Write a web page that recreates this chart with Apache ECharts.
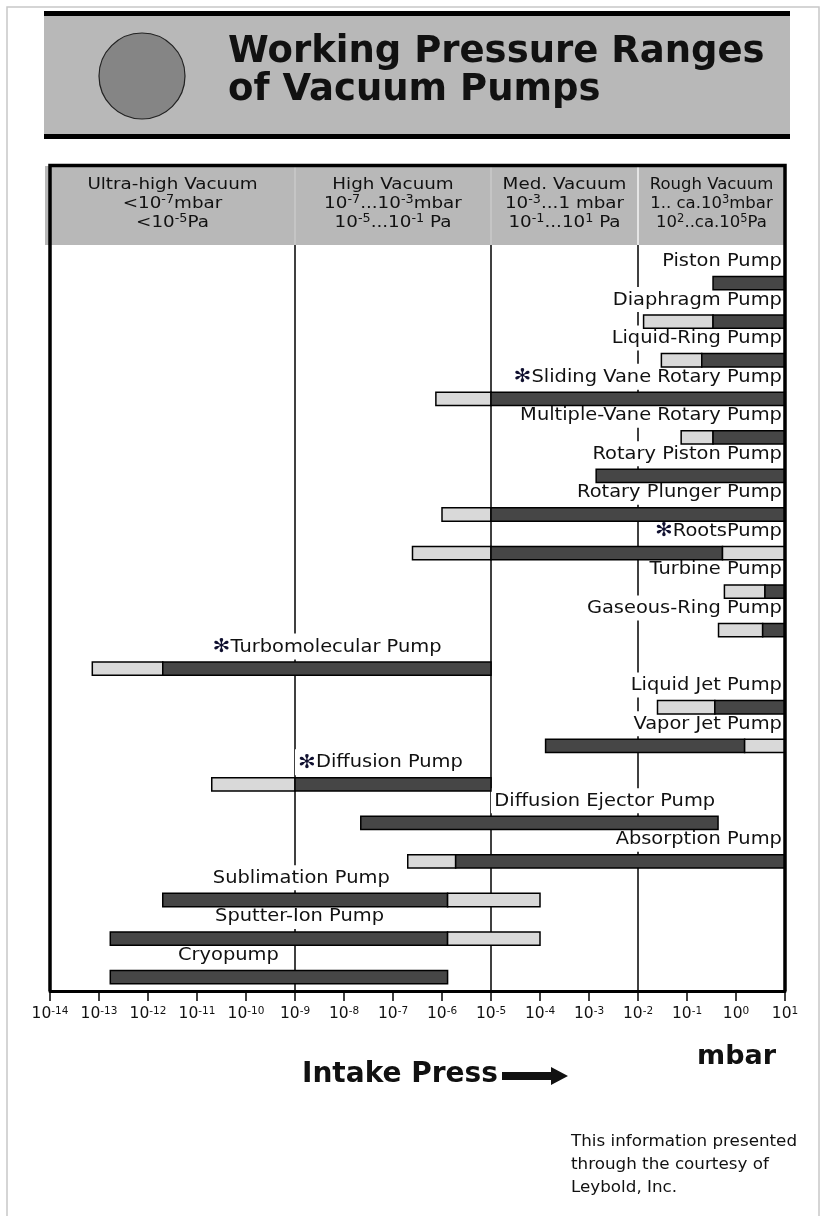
<!DOCTYPE html>
<html>
<head>
<meta charset="utf-8">
<script src="https://cdn.jsdelivr.net/npm/echarts@6/dist/echarts.min.js"></script>
<style>
  html, body { margin: 0; padding: 0; background: #fff; }
  #chart { width: 823px; height: 1216px; }
</style>
</head>
<body>
<div id="chart"></div>
<script>
// Pumps, listed top to bottom
const pumps = [
  'Piston Pump', 'Diaphragm Pump', 'Liquid-Ring Pump', 'Sliding Vane Rotary Pump',
  'Multiple-Vane Rotary Pump', 'Rotary Piston Pump', 'Rotary Plunger Pump', 'RootsPump',
  'Turbine Pump', 'Gaseous-Ring Pump', 'Turbomolecular Pump', 'Liquid Jet Pump',
  'Vapor Jet Pump', 'Diffusion Pump', 'Diffusion Ejector Pump', 'Absorption Pump',
  'Sublimation Pump', 'Sputter-Ion Pump', 'Cryopump'
];
// Pumps marked with an asterisk
const starred = ['Sliding Vane Rotary Pump', 'RootsPump', 'Turbomolecular Pump', 'Diffusion Pump'];

// Main working range, mbar (dark bar)
const rangeLow  = [0.34, 0.34, 0.2, 1e-5, 0.34, 1.4e-3, 1e-5, 1e-5, 3.9, 3.5, 2e-12, 0.37, 1.3e-4, 1e-9, 2.2e-8, 1.9e-6, 2e-12, 1.7e-13, 1.7e-13];
const rangeHigh = [10, 10, 10, 10, 10, 10, 10, 0.53, 10, 10, 1e-5, 10, 1.5, 1e-5, 0.43, 10, 1.3e-6, 1.3e-6, 1.3e-6];
// Extended range, mbar (light bar); null where there is none
const extLow  = [null, 0.013, 0.03, 7.5e-7, 0.076, null, 1e-6, 2.5e-7, 0.58, 0.44, 7.3e-14, 0.025, null, 2e-11, null, 2e-7, null, null, null];
const extHigh = [null, null, null, null, null, null, null, 10, null, null, null, null, 10, null, null, null, 1e-4, 1e-4, null];

// Pressure axis, mbar: one tick per decade
const axisMin = 1e-14;
const axisMax = 10;

// Vacuum regimes shown in the header band
const regimeNames = ['Ultra-high Vacuum', 'High Vacuum', 'Med. Vacuum', 'Rough Vacuum'];
const regimeMbar  = ['<10{s|-7}mbar', '10{s|-7}...10{s|-3}mbar', '10{s|-3}...1 mbar', '1.. ca.10{s|3}mbar'];
const regimePa    = ['<10{s|-5}Pa', '10{s|-5}...10{s|-1} Pa', '10{s|-1}...10{s|1} Pa', '10{s|2}..ca.10{s|5}Pa'];
const regimeBounds = [1e-14, 1e-9, 1e-5, 1e-2, 10];

const titleLines  = ['Working Pressure Ranges', 'of Vacuum Pumps'];
const axisName    = 'Intake Press';
const unitName    = 'mbar';
const footerLines = ['This information presented', 'through the courtesy of', 'Leybold, Inc.'];

// ---- layout / style ----
const FONT = 'DejaVu Sans';
const DARK = '#464646';
const LIGHT = '#d9d9d9';
const BAND = '#b8b8b8';
const WIDEN = 1.11;   // horizontal stretch of the small label lettering
// labels that start at a given pressure instead of ending at the right edge
const labelStart = {
  'Turbomolecular Pump': 1.8e-11,
  'Diffusion Pump': 1e-9,
  'Diffusion Ejector Pump': 1e-5,
  'Sublimation Pump': 1.8e-11,
  'Sputter-Ion Pump': 2e-11,
  'Cryopump': 3.5e-12
};

// the x axis runs on decades (log10 of mbar)
const lg = v => Math.log10(v);

const chart = echarts.init(document.getElementById('chart'), null, { renderer: 'canvas' });

const seriesData = pumps.map((n, i) => [
  i, lg(rangeLow[i]), lg(rangeHigh[i]),
  extLow[i] == null ? '-' : lg(extLow[i]),
  extHigh[i] == null ? '-' : lg(extHigh[i])
]);

function renderItem(params, api) {
  const i = api.value(0);
  const lo = api.value(1), hi = api.value(2), el = api.value(3), eh = api.value(4);
  const rowH = api.size([0, 1])[1];
  const h = rowH * 0.345;
  const children = [];
  function seg(a, b, fill) {
    const p1 = api.coord([a, i]);
    const p2 = api.coord([b, i]);
    children.push({
      type: 'rect', z2: 5,
      shape: { x: p1[0], y: p1[1] - h / 2, width: p2[0] - p1[0], height: h },
      style: { fill: fill, stroke: '#000', lineWidth: 1.5 }
    });
  }
  if (!isNaN(el)) seg(el, lo, LIGHT);
  seg(lo, hi, DARK);
  if (!isNaN(eh)) seg(hi, eh, LIGHT);

  const name = pumps[i];
  const y = api.coord([0, i])[1] - rowH * 0.575;
  const start = labelStart[name];
  const x = start != null ? api.coord([lg(start), i])[0] : api.coord([lg(axisMax), i])[0] - 2;
  const text = (starred.indexOf(name) >= 0 ? '{st|\u273B}' : '') + name;
  children.push({
    type: 'text', z2: 1, x: x, y: y, scaleX: WIDEN,
    style: {
      text: text, x: 0, y: 0,
      align: start != null ? 'left' : 'right',
      verticalAlign: 'middle',
      fontFamily: FONT, fontSize: 17.5, fill: '#111',
      backgroundColor: '#fff',
      padding: [4, 1, 3, 3],
      rich: { st: { fontFamily: FONT, fontSize: 19, fill: '#101030' } }
    }
  });
  return { type: 'group', children: children };
}

// full-height vertical rules at the regime boundaries
function renderRule(params, api) {
  const cs = params.coordSys;
  const x = api.coord([api.value(0), 0])[0];
  return {
    type: 'line',
    shape: { x1: x, y1: cs.y, x2: x, y2: cs.y + cs.height },
    style: { stroke: '#000', lineWidth: 1.5 }
  };
}

const option = {
  animation: false,
  backgroundColor: '#fff',
  grid: { left: 50, right: 38, top: 245, bottom: 225, outerBoundsMode: 'none' },
  xAxis: {
    type: 'value', min: lg(axisMin), max: lg(axisMax), interval: 1,
    axisLine: { show: true, onZero: false, lineStyle: { color: '#000', width: 3 } },
    axisTick: { show: true, length: 10, lineStyle: { color: '#000', width: 1.5 } },
    splitLine: { show: false },
    axisLabel: {
      show: true, margin: 15, color: '#111', fontFamily: FONT, fontSize: 15.5,
      showMinLabel: true, showMaxLabel: true, hideOverlap: false,
      formatter: v => '10{s|' + Math.round(v) + '}',
      rich: { s: { fontFamily: FONT, fontSize: 10.5, lineHeight: 10, verticalAlign: 'top', color: '#111' } }
    }
  },
  yAxis: { type: 'value', inverse: true, min: -0.99, max: 18.36, show: false },
  series: [
    {
      type: 'custom', z: 1, silent: true, renderItem: renderRule,
      encode: { x: 0 },
      data: regimeBounds.slice(1, 4).map(v => [lg(v)])
    },
    {
      type: 'custom', z: 2, renderItem: renderItem,
      encode: { x: [1, 2, 3, 4], y: 0 },
      data: seriesData
    }
  ]
};
chart.setOption(option);

// Page decorations: title banner, regime header, frame, axis caption, footer
const px = v => chart.convertToPixel({ xAxisIndex: 0 }, lg(v));
const xL = px(regimeBounds[0]), xR = px(regimeBounds[4]);
const g = [];
// outer page border
g.push({ type: 'rect', z: 0, shape: { x: 7, y: 7, width: 812, height: 1215 }, style: { fill: 'none', stroke: '#c8c8c8', lineWidth: 1.5 } });
// title banner
g.push({ type: 'rect', z: 10, shape: { x: 44, y: 16, width: 746, height: 118 }, style: { fill: BAND } });
g.push({ type: 'rect', z: 10, shape: { x: 44, y: 11, width: 746, height: 5 }, style: { fill: '#000' } });
g.push({ type: 'rect', z: 10, shape: { x: 44, y: 134, width: 746, height: 5 }, style: { fill: '#000' } });
g.push({ type: 'circle', z: 11, shape: { cx: 142, cy: 76, r: 43 }, style: { fill: '#858585', stroke: '#222', lineWidth: 1.2 } });
titleLines.forEach((t, k) => g.push({
  type: 'text', z: 11, style: { text: t, x: 228, y: 52 + k * 38.5, verticalAlign: 'middle', fontFamily: FONT, fontWeight: 'bold', fontSize: 37, fill: '#111' }
}));
// regime header band
g.push({ type: 'rect', z: 10, shape: { x: 45, y: 166, width: xR - 45, height: 79 }, style: { fill: BAND } });
[1, 2, 3].forEach(k => g.push({
  type: 'line', z: 11, shape: { x1: px(regimeBounds[k]), y1: 167, x2: px(regimeBounds[k]), y2: 245 },
  style: { stroke: k === 3 ? '#f4f4f4' : '#cacaca', lineWidth: 1.5 }
}));
regimeNames.forEach((n, k) => {
  const cx = (px(regimeBounds[k]) + px(regimeBounds[k + 1])) / 2;
  g.push({
    type: 'text', z: 12, x: cx, y: 204, scaleX: k === 3 ? 1.0 : WIDEN,
    style: {
      text: n + '\n' + regimeMbar[k] + '\n' + regimePa[k],
      x: 0, y: 0, align: 'center', verticalAlign: 'middle',
      fontFamily: FONT, fontSize: 16.5, lineHeight: 19, fill: '#111',
      rich: { s: { fontFamily: FONT, fontSize: 11.5, lineHeight: 12, verticalAlign: 'top', fill: '#111' } }
    }
  });
});
// frame
g.push({ type: 'polyline', z: 20, shape: { points: [[xL, 991], [xL, 165.5], [xR, 165.5], [xR, 991]] }, style: { fill: 'none', stroke: '#000', lineWidth: 3.5 } });
// axis caption and arrow
g.push({ type: 'text', z: 10, style: { text: unitName, x: 697, y: 1057, verticalAlign: 'middle', fontFamily: FONT, fontWeight: 'bold', fontSize: 27, fill: '#111' } });
g.push({ type: 'text', z: 10, style: { text: axisName, x: 302, y: 1075, verticalAlign: 'middle', fontFamily: FONT, fontWeight: 'bold', fontSize: 28, fill: '#111' } });
g.push({ type: 'polygon', z: 10, shape: { points: [[502, 1072], [551, 1072], [551, 1067], [568, 1076], [551, 1085], [551, 1080], [502, 1080]] }, style: { fill: '#111' } });
// footer
footerLines.forEach((t, k) => g.push({
  type: 'text', z: 10, x: 571, y: 1142 + k * 23, scaleX: 1.08,
  style: { text: t, x: 0, y: 0, verticalAlign: 'middle', fontFamily: FONT, fontSize: 15.5, fill: '#111' }
}));
chart.setOption({ graphic: { elements: g } });
</script>
</body>
</html>
